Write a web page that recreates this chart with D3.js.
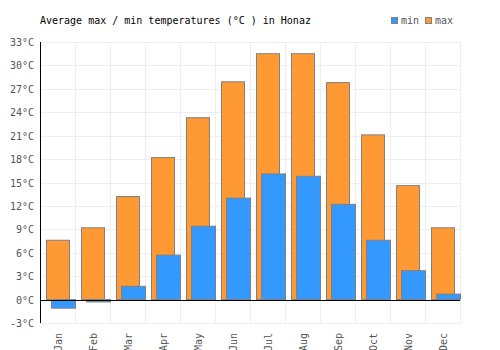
<!DOCTYPE html>
<head>
  <script src="https://cdnjs.cloudflare.com/ajax/libs/d3/7.8.5/d3.min.js"></script>
  <style>
    body { margin: 0; background: #fff; }
    text { font-family: "DejaVu Sans Mono", monospace; font-size: 10px; }
  </style>
</head>
<body>
  <svg></svg>
</body>
<script>
  let months = ["Jan","Feb","Mar","Apr","May","Jun","Jul","Aug","Sep","Oct","Nov","Dec"];
  let maxTemps = [7.6, 9.2, 13.2, 18.2, 23.3, 27.9, 31.5, 31.5, 27.8, 21.1, 14.6, 9.2];
  let minTemps = [-1.1, -0.3, 1.7, 5.7, 9.4, 13.0, 16.1, 15.8, 12.2, 7.6, 3.7, 0.7];
  let yTicks = [-3, 0, 3, 6, 9, 12, 15, 18, 21, 24, 27, 30, 33];

  let width = 500, height = 350;
  let margin = {top: 42, bottom: 27, left: 40, right: 40};
  let svg = d3.select("svg").attr("width", width).attr("height", height);

  let scales = {
    x: d3.scaleBand().domain(months).range([margin.left, width - margin.right]),
    y: d3.scaleLinear().domain([-3, 33]).range([height - margin.bottom, margin.top])
  };
  let bw = scales.x.bandwidth();

  // grid
  svg.append("g").selectAll("line").data(yTicks).enter().append("line")
    .attr("x1", margin.left).attr("x2", width - margin.right)
    .attr("y1", d => Math.round(scales.y(d)) + 0.5).attr("y2", d => Math.round(scales.y(d)) + 0.5)
    .attr("stroke", "#eeeeee");
  svg.append("g").selectAll("line").data(months.concat(["end"])).enter().append("line")
    .attr("x1", (d, i) => Math.round(margin.left + i * bw) + 0.5)
    .attr("x2", (d, i) => Math.round(margin.left + i * bw) + 0.5)
    .attr("y1", margin.top).attr("y2", height - margin.bottom)
    .attr("stroke", "#eeeeee");

  // y labels
  svg.append("g").selectAll("text").data(yTicks).enter().append("text")
    .attr("x", margin.left - 6).attr("y", d => scales.y(d) + 4)
    .attr("text-anchor", "end").attr("fill", "#555")
    .text(d => d + "°C");

  // max bars
  svg.append("g").selectAll("rect").data(maxTemps).enter().append("rect")
    .attr("x", (d, i) => Math.round(scales.x(months[i]) + 6) + 0.5)
    .attr("width", 23)
    .attr("y", d => scales.y(Math.max(d, 0)))
    .attr("height", d => Math.abs(scales.y(d) - scales.y(0)))
    .attr("fill", "#ff9933").attr("stroke", "#808080").attr("stroke-width", 1);

  // min bars
  svg.append("g").selectAll("rect").data(minTemps).enter().append("rect")
    .attr("x", (d, i) => Math.round(scales.x(months[i]) + 11) + 0.5)
    .attr("width", 24)
    .attr("y", d => scales.y(Math.max(d, 0)))
    .attr("height", d => Math.abs(scales.y(d) - scales.y(0)))
    .attr("fill", "#3399ff").attr("stroke", "#808080").attr("stroke-width", 1);

  // axes lines
  svg.append("line")
    .attr("x1", margin.left + 0.5).attr("x2", margin.left + 0.5)
    .attr("y1", margin.top).attr("y2", height - margin.bottom)
    .attr("stroke", "#000");
  svg.append("line")
    .attr("x1", margin.left).attr("x2", width - margin.right)
    .attr("y1", Math.round(scales.y(0)) + 0.5).attr("y2", Math.round(scales.y(0)) + 0.5)
    .attr("stroke", "#000");

  // x labels
  svg.append("g").selectAll("text").data(months).enter().append("text")
    .attr("transform", d => "translate(" + (scales.x(d) + bw / 2 + 4) + "," + (height - margin.bottom + 10) + ") rotate(-90)")
    .attr("text-anchor", "end").attr("fill", "#555")
    .text(d => d);

  // title
  svg.append("text").attr("x", 40).attr("y", 24).attr("fill", "#000")
    .text("Average max / min temperatures (°C ) in Honaz");

  // legend
  let legend = [{name: "min", color: "#3399ff", x: 391}, {name: "max", color: "#ff9933", x: 425}];
  let lg = svg.append("g").selectAll("g").data(legend).enter().append("g");
  lg.append("rect").attr("x", d => d.x + 0.5).attr("y", 17.5).attr("width", 6).attr("height", 6)
    .attr("fill", d => d.color).attr("stroke", "#808080");
  lg.append("text").attr("x", d => d.x + 10).attr("y", 24).attr("fill", "#555").text(d => d.name);
</script>
